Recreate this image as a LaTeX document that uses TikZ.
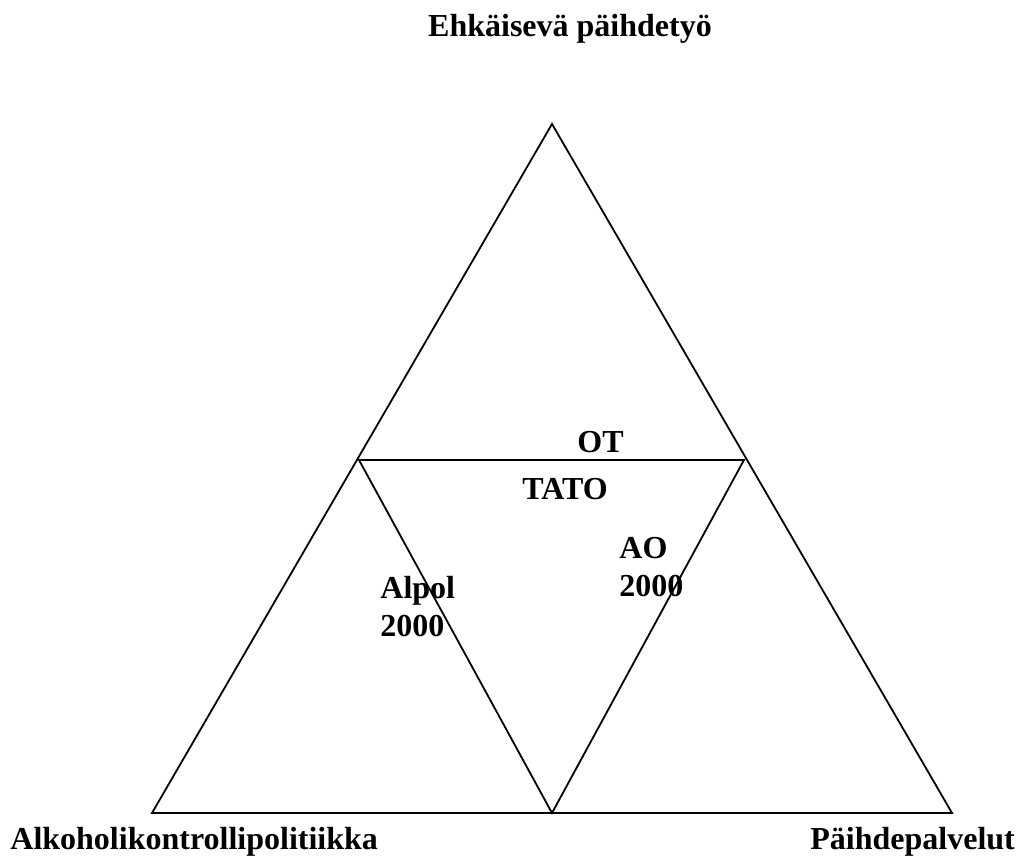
\documentclass[tikz,border=0pt]{standalone}
\usepackage{fontspec}
\setmainfont{Liberation Serif}
\begin{document}
\begin{tikzpicture}[x=0.5pt,y=-0.5pt,
  lbl/.style={font=\fontsize{16}{19}\selectfont\bfseries,inner sep=0pt},
  edge/.style={line width=0.9pt}]
\useasboundingbox (0,0) rectangle (1018,860);
% corners of the big triangle
\coordinate(apex) at (552,124);
\coordinate(bl) at (152,813);
\coordinate(br) at (952,813);
% corners of the inner one
\coordinate(ml) at (359,460);
\coordinate(mr) at (744,460);
\coordinate(mb) at (552,813);
\draw[edge](apex)--(bl)--(br)--cycle;
\draw[edge](ml)--(mr)--(mb)--cycle;
% labels
\node[lbl,anchor=base](ehk) at (570,37){Ehkäisevä päihdetyö};
\node[lbl,anchor=base west](alko) at (10,849){Alkoholikontrollipolitiikka};
\node[lbl,anchor=base west](paih) at (810,849){Päihdepalvelut};
\node[lbl,anchor=base west](ot) at (577,453){OT};
\node[lbl,anchor=base west](tato) at (522,500){TATO};
\node[lbl,anchor=north west,align=left](ao) at (619,537){AO\\2000};
\node[lbl,anchor=north west,align=left](alpol) at (380,576){Alpol\\2000};
\end{tikzpicture}
\end{document}
